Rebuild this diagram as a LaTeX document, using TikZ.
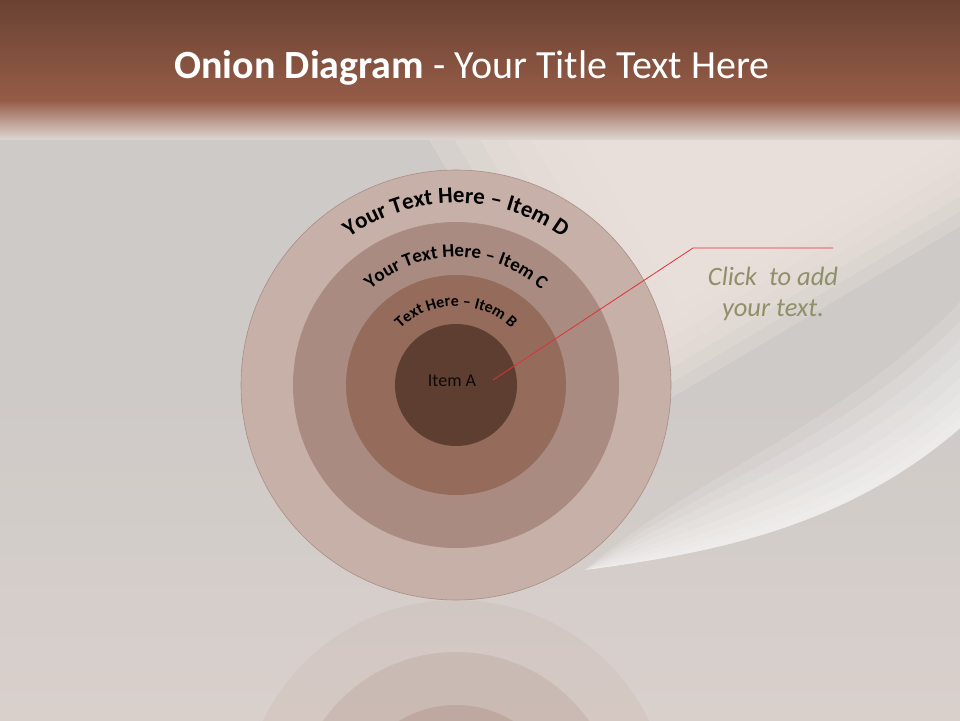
\documentclass[tikz,border=0pt]{standalone}
\usepackage{fontspec}
\setmainfont{Carlito}
\usetikzlibrary{calc,decorations.text}
\definecolor{bandtop}{HTML}{6A4233}
\definecolor{bandmid}{HTML}{955C47}
\definecolor{paper}{HTML}{CECAC7}
\definecolor{paperlow}{HTML}{D9D0CC}
\definecolor{glow}{HTML}{EFE4DE}
\definecolor{layerD}{HTML}{C7B0A7}
\definecolor{layerC}{HTML}{A98B82}
\definecolor{layerB}{HTML}{956B5B}
\definecolor{layerA}{HTML}{5F3E32}
\definecolor{ringedge}{HTML}{A88F86}
\definecolor{calloutred}{HTML}{E0303A}
\definecolor{notetext}{HTML}{8F8F69}
\begin{document}
\begin{tikzpicture}[x=1pt,y=1pt,
  layer/.style={circle,inner sep=0pt,minimum size=#1},
  ringlabel/.style={decorate,decoration={text along path,text align=center,text={#1}}},
  mirror/.style={fill=#1,opacity=0.22}]
\useasboundingbox (0,0) rectangle (960,720);
\clip (0,0) rectangle (960,720);
% background
\fill[paper] (0,0) rectangle (960,720);
\shade[top color=paper,bottom color=paperlow] (0,0) rectangle (960,330);
\begin{scope}[shift={(800,445)},rotate=30.7]
  \foreach \k in {0,...,6}
    \fill[glow,opacity=0.27] (-250+22*\k,-40+13*\k) rectangle (330,330);
\end{scope}
% light streak
\coordinate (L0) at (585,150);
\coordinate (L1) at (720,168);
\coordinate (L2) at (860,195);
\coordinate (L3) at (980,310);
\coordinate (U0) at (585,150);
\coordinate (U1) at (700,250);
\coordinate (U2) at (860,300);
\coordinate (U3) at (980,440);
\foreach \t in {0,0.15,0.3,0.45,0.6,0.72,0.83,0.92}
  \fill[white,opacity=0.13] (L0) .. controls (L1) and (L2) .. (L3)
    -- ($(U3)!\t!(L3)$) .. controls ($(U2)!\t!(L2)$) and ($(U1)!\t!(L1)$) .. ($(U0)!\t!(L0)$) -- cycle;
\shade[top color=bandtop,bottom color=bandmid] (0,620) rectangle (960,720);
\shade[top color=bandmid,bottom color=paper!50!glow] (0,580) rectangle (960,620);
% reflection
\coordinate (mc) at (456,-95);
\fill[mirror=layerD] (mc) circle[radius=215];
\fill[mirror=layerC] (mc) circle[radius=163];
\fill[mirror=layerB] (mc) circle[radius=110];
% onion
\coordinate (c) at (456,335);
\node[layer=430,fill=layerD,draw=ringedge,line width=0.6pt] (ringD) at (c) {};
\node[layer=326,fill=layerC] (ringC) at (c) {};
\node[layer=220,fill=layerB] (ringB) at (c) {};
\node[layer=122,fill=layerA] (ringA) at (c) {};
\node[text=black!85!layerA,font=\fontsize{18}{18}\selectfont] (itemA) at (452,339) {Item A};
\path[ringlabel={|\bfseries\fontsize{23}{23}\selectfont|Your Text Here – Item D}]
  ($(c)+(-182,0)$) arc[start angle=180,end angle=0,radius=182];
\path[ringlabel={|\bfseries\fontsize{19}{19}\selectfont|Your Text Here – Item C}]
  ($(c)+(-128,0)$) arc[start angle=180,end angle=0,radius=128];
\path[ringlabel={|\bfseries\fontsize{16}{16}\selectfont|Text Here – Item B}]
  ($(c)+(-79,0)$) arc[start angle=180,end angle=0,radius=79];
% callout
\coordinate (tip) at (493,340);
\coordinate (bend) at (693,472);
\coordinate (tail) at (833,472);
\draw[calloutred,line width=0.8pt] (tip) -- (bend) -- (tail);
\node[text=notetext,align=center,font=\itshape\fontsize{26.5}{31}\selectfont] (note) at (773,426)
  {Click\ \ to add\\your text.};
% title
\node[text=white,font=\fontsize{40}{40}\selectfont] (title) at (472,652)
  {\textbf{Onion Diagram} - Your Title Text Here};
\end{tikzpicture}
\end{document}
